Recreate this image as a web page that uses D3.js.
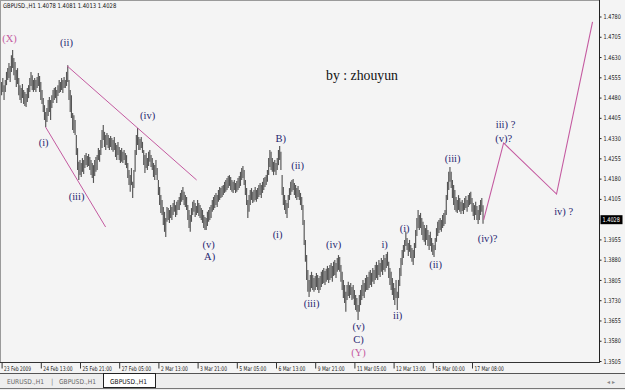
<!DOCTYPE html>
<html><head><meta charset="utf-8">
<script src="https://cdn.jsdelivr.net/npm/d3@7/dist/d3.min.js"></script>
<style>body{margin:0;background:#f4f4f4}svg{display:block}</style>
</head><body><svg id="c" width="625" height="390"></svg>
<script>
// ---- data (GBPUSD H1, one bar per hour) ----
const symbolTitle = "GBPUSD.,H1";
const lastBarOHLC = [1.4078, 1.4081, 1.4013, 1.4028];
const highs = [
1.4538,1.4552,1.4526,1.4545,1.4575,1.4589,1.4608,1.4597,1.4637,1.4656,
1.4626,1.4612,1.4582,1.4589,1.4552,1.4526,1.4515,1.4530,1.4508,1.4501,
1.4493,1.4515,1.4526,1.4552,1.4575,1.4563,1.4545,1.4552,1.4545,1.4556,
1.4571,1.4560,1.4538,1.4508,1.4478,1.4452,1.4427,1.4441,1.4471,1.4482,
1.4471,1.4489,1.4508,1.4515,1.4519,1.4508,1.4526,1.4545,1.4538,1.4552,
1.4545,1.4556,1.4545,1.4575,1.4600,1.4545,1.4508,1.4489,1.4423,1.4415,
1.4397,1.4341,1.4293,1.4242,1.4249,1.4238,1.4256,1.4249,1.4267,1.4275,
1.4264,1.4271,1.4260,1.4249,1.4238,1.4230,1.4249,1.4260,1.4267,1.4293,
1.4286,1.4323,1.4360,1.4378,1.4353,1.4341,1.4349,1.4341,1.4330,1.4338,
1.4330,1.4323,1.4334,1.4312,1.4304,1.4316,1.4297,1.4286,1.4293,1.4279,
1.4286,1.4275,1.4267,1.4238,1.4212,1.4193,1.4219,1.4168,1.4212,1.4286,
1.4341,1.4367,1.4334,1.4327,1.4334,1.4316,1.4286,1.4267,1.4275,1.4256,
1.4279,1.4286,1.4267,1.4256,1.4238,1.4230,1.4249,1.4219,1.4175,1.4149,
1.4119,1.4101,1.4075,1.4057,1.4034,1.4075,1.4071,1.4064,1.4082,1.4075,
1.4090,1.4101,1.4082,1.4094,1.4101,1.4112,1.4127,1.4138,1.4149,1.4131,
1.4119,1.4112,1.4082,1.4064,1.4045,1.4071,1.4094,1.4101,1.4090,1.4079,
1.4101,1.4090,1.4082,1.4071,1.4064,1.4045,1.4038,1.4034,1.4057,1.4064,
1.4075,1.4082,1.4101,1.4112,1.4119,1.4127,1.4119,1.4138,1.4149,1.4145,
1.4153,1.4156,1.4168,1.4175,1.4182,1.4190,1.4193,1.4186,1.4175,1.4168,
1.4175,1.4164,1.4171,1.4182,1.4190,1.4205,1.4219,1.4227,1.4212,1.4175,
1.4145,1.4101,1.4119,1.4138,1.4145,1.4131,1.4138,1.4149,1.4138,1.4145,
1.4156,1.4164,1.4156,1.4168,1.4182,1.4186,1.4193,1.4212,1.4256,1.4286,
1.4279,1.4256,1.4242,1.4249,1.4238,1.4256,1.4286,1.4301,1.4279,1.4193,
1.4149,1.4119,1.4101,1.4090,1.4119,1.4145,1.4168,1.4175,1.4179,1.4164,
1.4156,1.4145,1.4153,1.4138,1.4127,1.4112,1.4082,1.4027,1.3953,1.3897,
1.3842,1.3805,1.3823,1.3835,1.3823,1.3812,1.3820,1.3831,1.3823,1.3812,
1.3820,1.3835,1.3842,1.3849,1.3838,1.3846,1.3857,1.3849,1.3860,1.3868,
1.3857,1.3872,1.3879,1.3868,1.3886,1.3897,1.3890,1.3860,1.3835,1.3805,
1.3786,1.3761,1.3786,1.3798,1.3786,1.3794,1.3779,1.3786,1.3768,1.3749,
1.3738,1.3712,1.3749,1.3768,1.3786,1.3805,1.3794,1.3812,1.3823,1.3816,
1.3835,1.3842,1.3831,1.3849,1.3842,1.3860,1.3872,1.3860,1.3879,1.3868,
1.3886,1.3879,1.3897,1.3886,1.3901,1.3909,1.3872,1.3849,1.3835,1.3812,
1.3794,1.3775,1.3805,1.3761,1.3805,1.3849,1.3886,1.3916,1.3934,1.3953,
1.3983,1.3960,1.3942,1.3953,1.3934,1.3923,1.3916,1.3942,1.3990,1.4034,
1.4064,1.4045,1.4053,1.4034,1.4020,1.4008,1.3997,1.4008,1.3990,1.3971,
1.3983,1.3960,1.3942,1.3934,1.3960,1.3997,1.4020,1.4027,1.4034,1.4027,
1.4045,1.4053,1.4064,1.4119,1.4168,1.4205,1.4223,1.4205,1.4175,1.4156,
1.4138,1.4112,1.4101,1.4119,1.4108,1.4094,1.4101,1.4090,1.4108,1.4116,
1.4101,1.4119,1.4127,1.4131,1.4108,1.4090,1.4082,1.4094,1.4079,1.4064,
1.4082,1.4101,1.4108,1.4081];
const lows = [
1.4489,1.4501,1.4471,1.4501,1.4526,1.4545,1.4552,1.4538,1.4575,1.4589,
1.4563,1.4545,1.4519,1.4530,1.4489,1.4471,1.4460,1.4478,1.4456,1.4449,
1.4445,1.4464,1.4478,1.4501,1.4523,1.4508,1.4501,1.4508,1.4501,1.4515,
1.4523,1.4501,1.4471,1.4456,1.4427,1.4397,1.4371,1.4390,1.4412,1.4427,
1.4397,1.4441,1.4460,1.4471,1.4478,1.4460,1.4486,1.4497,1.4501,1.4508,
1.4497,1.4515,1.4515,1.4523,1.4538,1.4471,1.4427,1.4404,1.4360,1.4349,
1.4341,1.4267,1.4212,1.4175,1.4193,1.4186,1.4205,1.4197,1.4219,1.4230,
1.4223,1.4227,1.4212,1.4193,1.4182,1.4164,1.4190,1.4205,1.4212,1.4249,
1.4242,1.4267,1.4293,1.4323,1.4297,1.4286,1.4304,1.4293,1.4286,1.4297,
1.4286,1.4279,1.4286,1.4260,1.4249,1.4267,1.4249,1.4238,1.4242,1.4238,
1.4249,1.4230,1.4219,1.4182,1.4156,1.4131,1.4156,1.4108,1.4145,1.4205,
1.4267,1.4304,1.4286,1.4286,1.4293,1.4275,1.4230,1.4201,1.4219,1.4212,
1.4227,1.4242,1.4223,1.4212,1.4186,1.4175,1.4193,1.4175,1.4119,1.4082,
1.4053,1.4045,1.4008,1.3983,1.3964,1.4020,1.4027,1.4016,1.4034,1.4027,
1.4045,1.4057,1.4038,1.4045,1.4064,1.4064,1.4082,1.4094,1.4101,1.4082,
1.4075,1.4064,1.4027,1.3997,1.3983,1.4020,1.4045,1.4057,1.4038,1.4045,
1.4053,1.4042,1.4034,1.4027,1.4016,1.3997,1.3990,1.3990,1.4005,1.4020,
1.4027,1.4034,1.4057,1.4064,1.4071,1.4082,1.4075,1.4094,1.4101,1.4108,
1.4112,1.4119,1.4127,1.4131,1.4138,1.4145,1.4153,1.4138,1.4131,1.4127,
1.4138,1.4127,1.4131,1.4138,1.4145,1.4153,1.4175,1.4182,1.4156,1.4119,
1.4082,1.4034,1.4057,1.4082,1.4101,1.4090,1.4094,1.4101,1.4094,1.4105,
1.4112,1.4119,1.4108,1.4127,1.4138,1.4149,1.4156,1.4168,1.4193,1.4223,
1.4212,1.4205,1.4193,1.4205,1.4193,1.4212,1.4230,1.4249,1.4212,1.4119,
1.4082,1.4064,1.4049,1.4034,1.4071,1.4101,1.4119,1.4131,1.4138,1.4119,
1.4108,1.4101,1.4112,1.4101,1.4082,1.4064,1.4008,1.3934,1.3872,1.3805,
1.3761,1.3742,1.3761,1.3775,1.3768,1.3761,1.3768,1.3779,1.3768,1.3757,
1.3768,1.3779,1.3790,1.3794,1.3786,1.3798,1.3805,1.3794,1.3805,1.3812,
1.3798,1.3820,1.3823,1.3812,1.3835,1.3842,1.3835,1.3798,1.3768,1.3738,
1.3720,1.3687,1.3731,1.3746,1.3738,1.3749,1.3731,1.3735,1.3712,1.3694,
1.3687,1.3657,1.3687,1.3712,1.3731,1.3746,1.3738,1.3761,1.3768,1.3768,
1.3775,1.3786,1.3779,1.3798,1.3790,1.3805,1.3812,1.3805,1.3823,1.3816,
1.3835,1.3823,1.3842,1.3835,1.3849,1.3857,1.3812,1.3786,1.3768,1.3749,
1.3731,1.3712,1.3738,1.3694,1.3738,1.3783,1.3820,1.3860,1.3886,1.3909,
1.3931,1.3916,1.3894,1.3909,1.3886,1.3872,1.3860,1.3886,1.3923,1.3968,
1.3997,1.3990,1.3997,1.3971,1.3953,1.3946,1.3934,1.3953,1.3931,1.3916,
1.3931,1.3909,1.3897,1.3890,1.3916,1.3946,1.3968,1.3979,1.3990,1.3983,
1.3997,1.4005,1.4012,1.4045,1.4101,1.4138,1.4168,1.4145,1.4108,1.4082,
1.4064,1.4057,1.4053,1.4064,1.4057,1.4049,1.4060,1.4049,1.4064,1.4071,
1.4057,1.4075,1.4082,1.4086,1.4057,1.4042,1.4027,1.4045,1.4027,1.4012,
1.4027,1.4045,1.4057,1.4013];
const timeTickBars   = [0,32,64,96,128,160,192,224,256,288,320,352,384];
const timeTickLabels = ["23 Feb 2009","24 Feb 13:00","25 Feb 21:00","27 Feb 05:00","2 Mar 13:00","3 Mar 21:00","5 Mar 05:00","6 Mar 13:00","9 Mar 21:00","11 Mar 05:00","12 Mar 13:00","16 Mar 00:00","17 Mar 08:00"];
const priceTicks = [1.4780,1.4705,1.4630,1.4555,1.4480,1.4405,1.4330,1.4255,1.4180,1.4105,1.3955,1.3880,1.3805,1.3730,1.3655,1.3580,1.3505];
const priceDomain = [1.35013, 1.48374];
// wave annotations: text, bar position, price, kind
const waveText  = ["(X)","(ii)","(i)","(iii)","(iv)","(v)","A)","B)","(i)","(ii)","(iv)","(iii)","(v)","C)","(Y)","i)","ii)","(i)","(ii)","(iii)","(iv)?","iii) ?","(v)?","iv) ?"];
const waveBar   = [6.5,53,34.3,61.2,119.2,169,169.8,227.8,225.3,241.6,271,253,291.4,291.4,291.4,312.7,323.3,329,354.3,368.2,396.7,411.4,409.8,458.8];
const wavePrice = [1.4700,1.4682,1.4312,1.4112,1.4412,1.3938,1.3890,1.4327,1.3975,1.4227,1.3935,1.3716,1.3631,1.3583,1.3535,1.3935,1.3672,1.3994,1.3864,1.4256,1.3960,1.4379,1.4330,1.4057];
const waveKind  = ["major","minor","minor","minor","minor","minor","minor","minor","minor","minor","minor","minor","minor","minor","major","minor","minor","minor","minor","minor","minor","minor","minor","minor"];
// projected path (bar position, price)
const projBar   = [393.5, 409.8, 453, 482.4];
const projPrice = [1.4027, 1.4312, 1.4123, 1.4760];
// channel lines: [bar1, price1, bar2, price2]
const channelLines = [[53.5,1.4597,159.2,1.4175],[35.9,1.4371,84.9,1.4001]];
const tabNames = ["EURUSD.,H1","GBPUSD.,H1","GBPUSD.,H1"];

// ---- drawing ----
const svg = d3.select("#c");
const plot = {left:1, right:599, top:1, bottom:362};
const x = d3.scaleLinear().domain([0, 393]).range([1.6, 1.6 + 393*1.225]);
const y = d3.scaleLinear().domain(priceDomain).range([plot.bottom, plot.top]);
const sans = "'DejaVu Sans',sans-serif";
const fit = (sel, perChar) => sel.each(function(){
  const t = this.textContent; d3.select(this).attr("textLength", t.length*perChar).attr("lengthAdjust","spacingAndGlyphs");
});

svg.append("rect").attr("x",0).attr("y",0).attr("width",625).attr("height",390).attr("fill","#f4f4f4");
svg.append("rect").attr("x",0).attr("y",374).attr("width",625).attr("height",16).attr("fill","#eeeeee");

const g = svg.append("g");
g.selectAll("line.bar").data(highs).join("line").attr("class","bar")
  .attr("x1",(d,i)=>x(i)).attr("x2",(d,i)=>x(i))
  .attr("y1",d=>y(d)).attr("y2",(d,i)=>y(lows[i]))
  .attr("stroke","#555").attr("stroke-width",1.15);

const pink = "#c45aa0";
channelLines.forEach(c=>{
  g.append("line").attr("x1",x(c[0])).attr("y1",y(c[1])).attr("x2",x(c[2])).attr("y2",y(c[3]))
   .attr("stroke",pink).attr("stroke-width",1);
});
g.append("path").datum(projBar.map((b,i)=>[b,projPrice[i]]))
  .attr("d", d3.line().x(d=>x(d[0])).y(d=>y(d[1])))
  .attr("fill","none").attr("stroke",pink).attr("stroke-width",1.1);

g.selectAll("text.wave").data(waveText).join("text").attr("class","wave")
  .attr("x",(d,i)=>x(waveBar[i])).attr("y",(d,i)=>y(wavePrice[i]))
  .attr("text-anchor","middle").attr("dominant-baseline","central")
  .attr("font-family","'Liberation Serif','DejaVu Serif',serif").attr("font-size",10.5)
  .attr("fill",(d,i)=>waveKind[i]==="major"? pink : "#262670")
  .text(d=>d);

svg.append("text").attr("x",326).attr("y",80).attr("font-family","'Liberation Serif',serif")
  .attr("font-size",15).attr("fill","#111").attr("textLength",72).attr("lengthAdjust","spacingAndGlyphs").text("by : zhouyun");

// frame
svg.append("line").attr("x1",0.5).attr("x2",0.5).attr("y1",0).attr("y2",plot.bottom).attr("stroke","#9a9a9a");
svg.append("line").attr("x1",0).attr("x2",plot.right).attr("y1",0.5).attr("y2",0.5).attr("stroke","#9a9a9a");

// price axis
const ya = svg.append("g").attr("transform",`translate(${plot.right+0.5},0)`)
  .call(d3.axisRight(y).tickValues(priceTicks).tickFormat(d3.format(".4f")).tickSize(2).tickPadding(2));
ya.select(".domain").attr("stroke","#222").attr("d",`M0,0V${plot.bottom}`);
ya.selectAll(".tick line").attr("stroke","#222");
ya.selectAll("text").attr("font-family",sans).attr("font-size",6.4).attr("fill","#222").call(fit, 2.9);
// current price marker
const cp = lastBarOHLC[3];
svg.append("rect").attr("x",plot.right+1.5).attr("y",y(cp)-4.5).attr("width",22).attr("height",9).attr("fill","#000");
svg.append("text").attr("x",plot.right+3.5).attr("y",y(cp)).attr("dominant-baseline","central")
  .attr("font-family",sans).attr("font-size",6.4).attr("fill","#fff").text(d3.format(".4f")(cp)).call(fit, 2.9);

// time axis
const xa = svg.append("g").attr("transform",`translate(0,${plot.bottom+0.5})`)
  .call(d3.axisBottom(x).tickValues(timeTickBars).tickFormat((d,k)=>timeTickLabels[k]).tickSize(6));
xa.select(".domain").attr("stroke","#333").attr("d",`M0,0H${plot.right+1}`);
xa.selectAll(".tick line").attr("stroke","#333");
xa.selectAll("text").attr("text-anchor","start").attr("x",2).attr("y",3.5)
  .attr("font-family",sans).attr("font-size",6.4).attr("fill","#222").call(fit, 2.45);

// title
svg.append("text").attr("x",3).attr("y",8).attr("font-family",sans).attr("font-size",6.4).attr("fill","#111")
  .text(symbolTitle + " " + lastBarOHLC.map(d3.format(".4f")).join(" ")).call(fit, 2.98);

// tabs
svg.append("line").attr("x1",0).attr("x2",625).attr("y1",373.5).attr("y2",373.5).attr("stroke","#555");
svg.append("rect").attr("x",103.5).attr("y",373.5).attr("width",52).attr("height",14).attr("fill","#fff").attr("stroke","#222");
svg.append("line").attr("x1",0).attr("x2",625).attr("y1",388.5).attr("y2",388.5).attr("stroke","#777");
const tabX=[7,59,110];
tabNames.forEach((t,i)=>svg.append("text").attr("x",tabX[i]).attr("y",384).attr("font-family",sans)
  .attr("font-size",6.6).attr("fill",i===2?"#111":"#666").text(t).call(fit, 3.7));
svg.append("text").attr("x",51).attr("y",384).attr("font-family",sans).attr("font-size",7).attr("fill","#888").text("|");
svg.append("text").attr("x",607).attr("y",384).attr("font-size",6).attr("fill","#888").attr("font-family",sans).text("◂  ▸");
</script></body></html>
